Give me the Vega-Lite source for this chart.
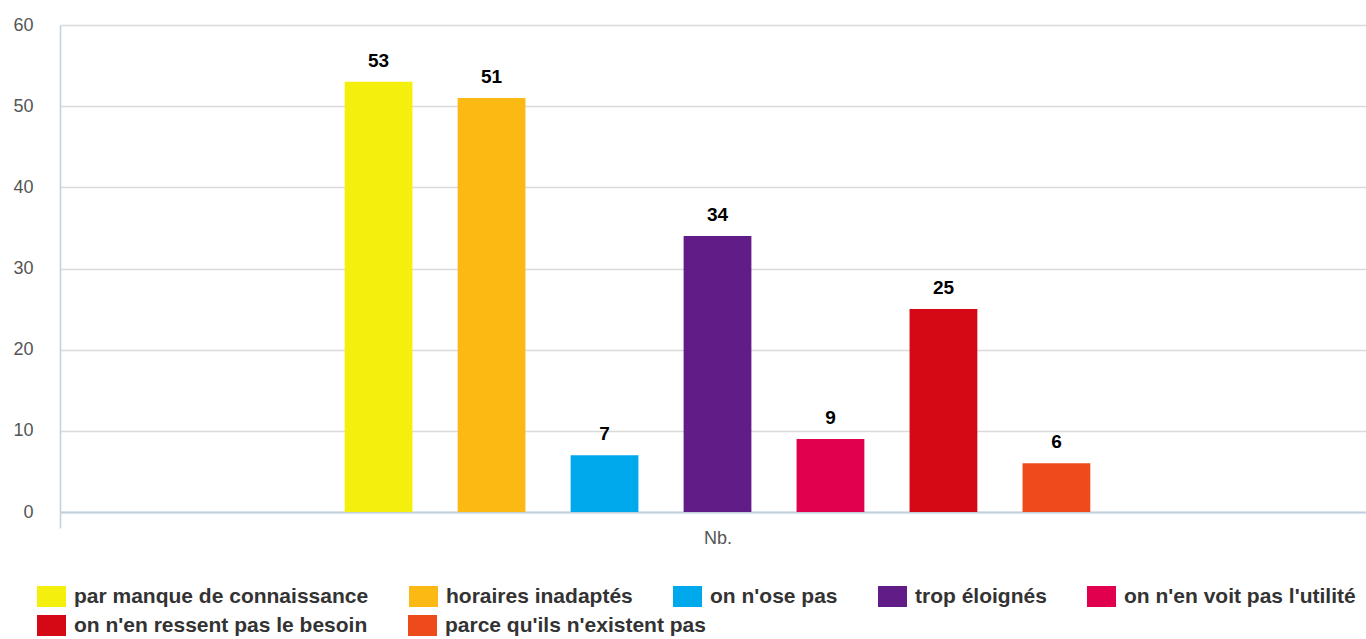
{
  "$schema": "https://vega.github.io/schema/vega-lite/v6.json",
  "width": 1315,
  "height": 487,
  "autosize": "none",
  "padding": {"left": 60, "top": 25, "right": -9, "bottom": 127},
  "background": "white",
  "config": {"view": {"stroke": null}, "font": "Liberation Sans"},
  "data": {
    "values": [
      {"cat": "Nb.", "reason": "par manque de connaissance", "n": 53},
      {"cat": "Nb.", "reason": "horaires inadaptés", "n": 51},
      {"cat": "Nb.", "reason": "on n'ose pas", "n": 7},
      {"cat": "Nb.", "reason": "trop éloignés", "n": 34},
      {"cat": "Nb.", "reason": "on n'en voit pas l'utilité", "n": 9},
      {"cat": "Nb.", "reason": "on n'en ressent pas le besoin", "n": 25},
      {"cat": "Nb.", "reason": "parce qu'ils n'existent pas", "n": 6}
    ]
  },
  "encoding": {
    "x": {
      "field": "cat", "type": "nominal",
      "scale": {"paddingOuter": 0, "paddingInner": 0},
      "axis": {
        "title": null, "labelAngle": 0, "labelFontSize": 18, "labelColor": "#555555",
        "domainColor": "#C0D0E0", "domainWidth": 2,
        "ticks": true, "tickBand": "extent", "tickSize": 16, "tickColor": "#C0D0E0", "tickWidth": 1.5,
        "labelPadding": 1, "grid": false
      }
    },
    "xOffset": {
      "field": "reason", "type": "nominal",
      "scale": {
        "domain": ["_pad1", "_pad2", "par manque de connaissance", "horaires inadaptés", "on n'ose pas", "trop éloignés", "on n'en voit pas l'utilité", "on n'en ressent pas le besoin", "parce qu'ils n'existent pas", "_pad3", "_pad4"],
        "paddingInner": 0.4, "paddingOuter": 0.52
      }
    },
    "y": {
      "field": "n", "type": "quantitative",
      "scale": {"domain": [0, 60], "nice": false},
      "axis": {
        "title": null, "values": [0, 10, 20, 30, 40, 50, 60], "ticks": false,
        "labelFontSize": 18, "labelColor": "#555555", "labelPadding": 27,
        "domainColor": "#C0D0E0", "domainWidth": 1.5,
        "gridColor": "#DADADA", "gridWidth": 1.5
      }
    }
  },
  "layer": [
    {
      "transform": [{"filter": {"field": "reason", "oneOf": ["par manque de connaissance", "horaires inadaptés", "on n'ose pas", "trop éloignés", "on n'en voit pas l'utilité"]}}],
      "mark": {"type": "bar"},
      "encoding": {
        "color": {
          "field": "reason", "type": "nominal",
          "scale": {
            "domain": ["par manque de connaissance", "horaires inadaptés", "on n'ose pas", "trop éloignés", "on n'en voit pas l'utilité"],
            "range": ["#F4EF0C", "#FDB913", "#00A9EC", "#621C87", "#E0004D"]
          },
          "legend": {
            "title": null, "orient": "none", "legendX": -23, "legendY": 557,
            "direction": "horizontal", "columns": 5,
            "symbolType": "M-1,-0.724H1V0.724H-1Z", "symbolSize": 841, "symbolStrokeWidth": 0,
            "symbolOpacity": 1,
            "labelFontSize": 21, "labelFontWeight": "bold", "labelColor": "#333333",
            "labelOffset": 8, "columnPadding": 40, "labelLimit": 400
          }
        }
      }
    },
    {
      "transform": [{"filter": {"field": "reason", "oneOf": ["on n'en ressent pas le besoin", "parce qu'ils n'existent pas"]}}],
      "mark": {"type": "bar"},
      "encoding": {
        "fill": {
          "field": "reason", "type": "nominal",
          "scale": {
            "domain": ["on n'en ressent pas le besoin", "parce qu'ils n'existent pas"],
            "range": ["#D50816", "#EE4B1D"]
          },
          "legend": {
            "title": null, "orient": "none", "legendX": -23, "legendY": 586,
            "direction": "horizontal", "columns": 2,
            "symbolType": "M-1,-0.724H1V0.724H-1Z", "symbolSize": 841, "symbolStrokeWidth": 0,
            "symbolOpacity": 1,
            "labelFontSize": 21, "labelFontWeight": "bold", "labelColor": "#333333",
            "labelOffset": 8, "columnPadding": 40, "labelLimit": 400
          }
        }
      }
    },
    {
      "mark": {"type": "text", "baseline": "bottom", "dy": -11, "fontSize": 19, "fontWeight": "bold", "color": "#000000"},
      "encoding": {"text": {"field": "n", "type": "quantitative"}}
    }
  ]
}
